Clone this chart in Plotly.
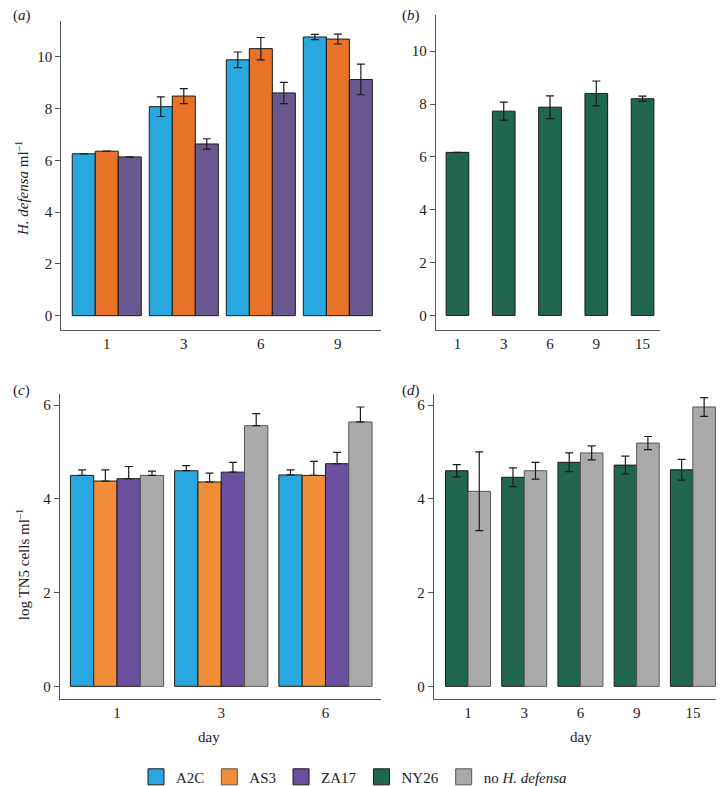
import plotly.graph_objects as go

# ---------------- data ----------------
days_a = ["1", "3", "6", "9"]
a_A2C = [6.25, 8.07, 9.88, 10.76]
a_A2C_err = [None, 0.38, 0.30, 0.10]
a_AS3 = [6.35, 8.48, 10.31, 10.68]
a_AS3_err = [None, 0.29, 0.43, 0.19]
a_ZA17 = [6.13, 6.63, 8.60, 9.12]
a_ZA17_err = [None, 0.20, 0.41, 0.59]

days_b = ["1", "3", "6", "9", "15"]
b_NY26 = [6.17, 7.73, 7.88, 8.40, 8.20]
b_NY26_err = [None, 0.34, 0.43, 0.47, 0.10]

days_c = ["1", "3", "6"]
c_A2C = [4.50, 4.60, 4.51]
c_A2C_err = [0.12, 0.11, 0.11]
c_AS3 = [4.38, 4.36, 4.50]
c_AS3_err = [0.24, 0.19, 0.30]
c_ZA17 = [4.43, 4.57, 4.75]
c_ZA17_err = [0.26, 0.21, 0.24]
c_none = [4.50, 5.56, 5.64]
c_none_err = [0.09, 0.26, 0.32]

days_d = ["1", "3", "6", "9", "15"]
d_NY26 = [4.60, 4.46, 4.78, 4.72, 4.62]
d_NY26_err = [0.13, 0.20, 0.20, 0.19, 0.22]
d_none = [4.16, 4.60, 4.98, 5.19, 5.96]
d_none_err = [0.84, 0.18, 0.15, 0.14, 0.20]

legend_names = ["A2C", "AS3", "ZA17", "NY26", "no <i>H. defensa</i>"]

# ---------------- style ----------------
C_A2C = "#29A8E0"
C_AS3_a, C_AS3_c = "#E87228", "#F28D38"
C_ZA17_a, C_ZA17_c = "#69578F", "#6B50A0"
C_NY26 = "#216651"
C_NONE = "#AAAAAA"
EDGE = "#1a1a1a"
EDGE_GRAY = "#555555"
FONT = "Liberation Serif"
AX = "#555555"
legend_colors = [C_A2C, C_AS3_c, C_ZA17_c, C_NY26, C_NONE]
legend_edges = [EDGE, EDGE_GRAY, EDGE, EDGE, EDGE_GRAY]

W, H = 724, 786


def px_x(p):
    return p / W


def px_y(p):
    return 1 - p / H


fig = go.Figure()


def bar(x, y, err, color, edge, xa, ya, width, offset, name, one_sided=False):
    if one_sided:
        ey = dict(type="data", array=err, arrayminus=[0] * len(err), symmetric=False,
                  color=EDGE, thickness=1.2, width=4)
    else:
        ey = dict(type="data", array=err, color=EDGE, thickness=1.2, width=4)
    fig.add_trace(go.Bar(
        x=x, y=y, xaxis=xa, yaxis=ya, width=width, offset=offset,
        marker=dict(color=color, line=dict(color=edge, width=1)),
        error_y=ey, name=name, showlegend=False,
    ))


# panel a
wa = 0.2987
bar(days_a, a_A2C, a_A2C_err, C_A2C, EDGE, "x", "y", wa, -1.5 * wa, "A2C")
bar(days_a, a_AS3, a_AS3_err, C_AS3_a, EDGE, "x", "y", wa, -0.5 * wa, "AS3")
bar(days_a, a_ZA17, a_ZA17_err, C_ZA17_a, EDGE, "x", "y", wa, 0.5 * wa, "ZA17")

# panel b
wb = 0.49
bar(days_b, b_NY26, b_NY26_err, C_NY26, EDGE, "x2", "y2", wb, -0.5 * wb, "NY26")

# panel c
wc = 0.2236
bar(days_c, c_A2C, c_A2C_err, C_A2C, EDGE, "x3", "y3", wc, -2 * wc, "A2C", True)
bar(days_c, c_AS3, c_AS3_err, C_AS3_c, EDGE, "x3", "y3", wc, -1 * wc, "AS3", True)
bar(days_c, c_ZA17, c_ZA17_err, C_ZA17_c, EDGE, "x3", "y3", wc, 0, "ZA17", True)
bar(days_c, c_none, c_none_err, C_NONE, EDGE_GRAY, "x3", "y3", wc, wc, "no H. defensa", True)

# panel d
wd = 0.4
bar(days_d, d_NY26, d_NY26_err, C_NY26, EDGE, "x4", "y4", wd, -wd, "NY26")
bar(days_d, d_none, d_none_err, C_NONE, EDGE_GRAY, "x4", "y4", wd, 0, "no H. defensa")

# legend entries (square swatches)
for name, col, edge in zip(legend_names, legend_colors, legend_edges):
    fig.add_trace(go.Scatter(
        x=[None], y=[None], mode="markers", name=name, xaxis="x", yaxis="y",
        marker=dict(symbol="square", size=16, color=col, line=dict(color=edge, width=1)),
        showlegend=True, hoverinfo="skip",
    ))


def xaxis(domain, rng, anchor):
    return dict(domain=domain, range=rng, anchor=anchor, type="category",
                showline=True, linecolor=AX, linewidth=1, ticks="",
                showgrid=False, zeroline=False,
                tickfont=dict(family=FONT, size=15, color="#222"))


def yaxis(domain, rng, anchor, tickvals):
    return dict(domain=domain, range=rng, anchor=anchor, tickvals=tickvals,
                showline=True, linecolor=AX, linewidth=1, ticks="outside",
                ticklen=5, tickcolor=AX, showgrid=False, zeroline=False,
                tickfont=dict(family=FONT, size=15, color="#222"))


fig.update_layout(
    width=W, height=H, margin=dict(l=0, r=0, t=0, b=0),
    paper_bgcolor="white", plot_bgcolor="white",
    barmode="group",
    font=dict(family=FONT, size=15, color="#222"),
    xaxis=xaxis([px_x(53.3), px_x(373)], [-0.59, 3.56], "y"),
    yaxis=yaxis([px_y(323.3), px_y(13)], [-0.54, 11.38], "x", [0, 2, 4, 6, 8, 10]),
    xaxis2=xaxis([px_x(427.7), px_x(651.7)], [-0.47, 4.37], "y2"),
    yaxis2=yaxis([px_y(323.3), px_y(7)], [-0.54, 11.37], "x2", [0, 2, 4, 6, 8, 10]),
    xaxis3=xaxis([px_x(51.7), px_x(372.7)], [-0.55, 2.53], "y3"),
    yaxis3=yaxis([px_y(695), px_y(388.3)], [-0.28, 6.23], "x3", [0, 2, 4, 6]),
    xaxis4=xaxis([px_x(425.7), px_x(722)], [-0.61, 4.66], "y4"),
    yaxis4=yaxis([px_y(695), px_y(388.3)], [-0.28, 6.23], "x4", [0, 2, 4, 6]),
    legend=dict(orientation="h", x=px_x(346), xanchor="center", y=px_y(773),
                yanchor="middle", font=dict(family=FONT, size=15, color="#222"),
                itemwidth=30, traceorder="normal", bgcolor="rgba(0,0,0,0)"),
)

annos = [
    dict(text="(<i>a</i>)", x=px_x(3), y=px_y(8), xanchor="left"),
    dict(text="(<i>b</i>)", x=px_x(392), y=px_y(8), xanchor="left"),
    dict(text="(<i>c</i>)", x=px_x(3), y=px_y(384), xanchor="left"),
    dict(text="(<i>d</i>)", x=px_x(392), y=px_y(384), xanchor="left"),
    dict(text="<i>H. defensa</i> ml<sup>–1</sup>", x=px_x(14), y=px_y(182), textangle=-90),
    dict(text="log TN5 cells ml<sup>–1</sup>", x=px_x(15), y=px_y(560), textangle=-90),
    dict(text="day", x=px_x(201), y=px_y(733)),
    dict(text="day", x=px_x(573), y=px_y(733)),
]
for a in annos:
    a.setdefault("xanchor", "center")
    fig.add_annotation(xref="paper", yref="paper", showarrow=False, yanchor="middle",
                       font=dict(family=FONT, size=15, color="#222"), **a)

fig.write_html("out.html")
